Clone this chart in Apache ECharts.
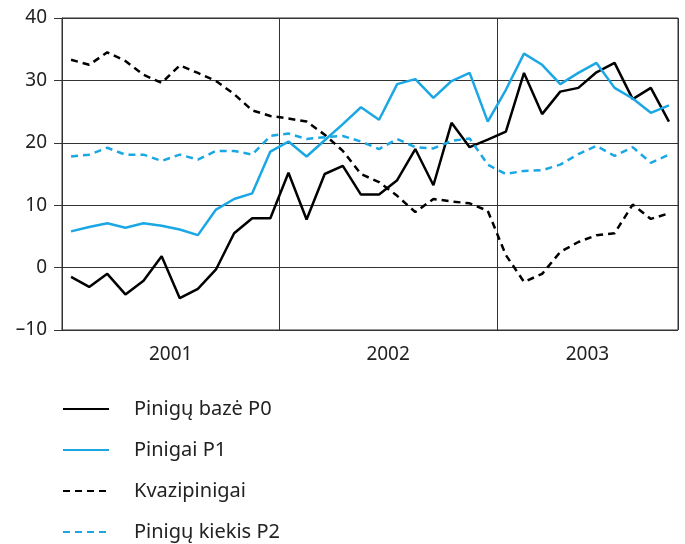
<!DOCTYPE html>
<html>
<head>
<meta charset="utf-8">
<script src="https://cdn.jsdelivr.net/npm/echarts@6/dist/echarts.min.js"></script>
<style>
  html, body { margin: 0; padding: 0; background: #fff; }
  #chart { width: 685px; height: 544px; }
</style>
</head>
<body>
<div id="chart"></div>
<script>
// menesiai 2001-01 .. 2003-10
const months = []
for (let y = 2001; y <= 2003; y++) {
  for (let m = 1; m <= 12; m++) {
    if (y === 2003 && m > 10) break
    months.push(y + '-' + (m < 10 ? '0' + m : m))
  }
}
const years = ['2001', '2002', '2003']
// metinis pokytis, %
const baseP0 = [-1.5, -3.1, -1.0, -4.3, -2.1, 1.8, -4.9, -3.4, -0.3, 5.5, 7.9, 7.9,
  15.2, 7.7, 15.0, 16.3, 11.7, 11.7, 14.0, 19.0, 13.2, 23.2, 19.3, 20.5,
  21.8, 31.2, 24.6, 28.2, 28.8, 31.3, 32.8, 27.0, 28.8, 23.4]
const moneyP1 = [5.8, 6.5, 7.1, 6.4, 7.1, 6.7, 6.1, 5.2, 9.3, 11.0, 11.9, 18.6,
  20.2, 17.8, 20.4, 23.0, 25.7, 23.7, 29.4, 30.2, 27.2, 29.9, 31.2, 23.4,
  28.5, 34.3, 32.5, 29.4, 31.2, 32.8, 28.8, 27.1, 24.8, 26.0]
const quasi = [33.3, 32.5, 34.5, 33.1, 30.9, 29.6, 32.4, 31.2, 29.9, 27.8, 25.2, 24.3,
  23.9, 23.4, 21.3, 18.7, 15.0, 13.7, 11.5, 8.9, 11.0, 10.6, 10.3, 9.1,
  2.0, -2.3, -1.0, 2.5, 4.1, 5.2, 5.5, 10.1, 7.8, 8.7]
const supplyP2 = [17.8, 18.1, 19.2, 18.1, 18.1, 17.1, 18.1, 17.3, 18.7, 18.7, 18.1, 21.1,
  21.5, 20.6, 20.9, 21.1, 20.2, 19.0, 20.6, 19.3, 19.1, 20.3, 20.7, 16.5,
  15.0, 15.5, 15.6, 16.5, 18.2, 19.5, 17.9, 19.3, 16.8, 18.1]

const BLUE = '#1aa7e4'
const FONT = 'Noto Sans'
const yearStart = i => i % 12 === 0

// metu etikeciu vietos (menesiais nuo pradzios)
const yearMid = {}
years.forEach((y, k) => {
  const first = k * 12
  const last = Math.min(first + 12, months.length)
  yearMid[(first + last) / 2] = y
})

const chart = echarts.init(document.getElementById('chart'))
const option = {
  animation: false,
  textStyle: { fontFamily: FONT },
  grid: {
    left: 62, right: 7, top: 18, bottom: 214,
    show: true, borderColor: '#333', borderWidth: 1
  },
  legend: {
    orient: 'vertical',
    left: 62,
    top: 399,
    height: 145,
    padding: 0,
    itemWidth: 46,
    itemHeight: 14,
    itemGap: 21,
    itemStyle: { opacity: 0 },
    textStyle: { fontSize: 20, color: '#222', fontFamily: FONT, padding: [0, 0, 0, 20] },
    data: ['Pinigų bazė P0', 'Pinigai P1', 'Kvazipinigai', 'Pinigų kiekis P2']
  },
  xAxis: [
    {
      type: 'category',
      data: months,
      boundaryGap: true,
      axisLine: { lineStyle: { color: '#333', width: 1 } },
      axisTick: { show: true, length: 9, interval: yearStart, lineStyle: { color: '#333' } },
      axisLabel: { show: false },
      splitLine: { show: true, interval: yearStart, lineStyle: { color: '#333', width: 1 } }
    },
    {
      type: 'value',
      position: 'bottom',
      min: 0,
      max: months.length,
      interval: 0.5,
      axisLine: { show: false },
      axisTick: { show: false },
      splitLine: { show: false },
      axisLabel: {
        margin: 15,
        fontSize: 19,
        color: '#222',
        fontFamily: FONT,
        showMinLabel: true,
        showMaxLabel: true,
        formatter: v => yearMid[v] || ''
      }
    }
  ],
  yAxis: {
    type: 'value',
    min: -10,
    max: 40,
    interval: 10,
    axisLine: { show: true, lineStyle: { color: '#333' } },
    axisTick: { show: true, length: 8, lineStyle: { color: '#333' } },
    axisLabel: {
      margin: 15,
      fontSize: 19,
      color: '#222',
      fontFamily: FONT,
      formatter: v => String(v).replace('-', '–')
    },
    splitLine: { show: true, lineStyle: { color: '#333', width: 1 } }
  },
  series: [
    {
      name: 'Pinigų bazė P0', type: 'line', data: baseP0, symbol: 'none',
      lineStyle: { color: '#000', width: 2.5 }, itemStyle: { color: '#000' }
    },
    {
      name: 'Pinigai P1', type: 'line', data: moneyP1, symbol: 'none',
      lineStyle: { color: BLUE, width: 2.5 }, itemStyle: { color: BLUE }
    },
    {
      name: 'Kvazipinigai', type: 'line', data: quasi, symbol: 'none',
      lineStyle: { color: '#000', width: 2.5, type: [7, 5] }, itemStyle: { color: '#000' }
    },
    {
      name: 'Pinigų kiekis P2', type: 'line', data: supplyP2, symbol: 'none',
      lineStyle: { color: BLUE, width: 2.5, type: [7, 5] }, itemStyle: { color: BLUE }
    }
  ]
}
chart.setOption(option)
</script>
</body>
</html>
